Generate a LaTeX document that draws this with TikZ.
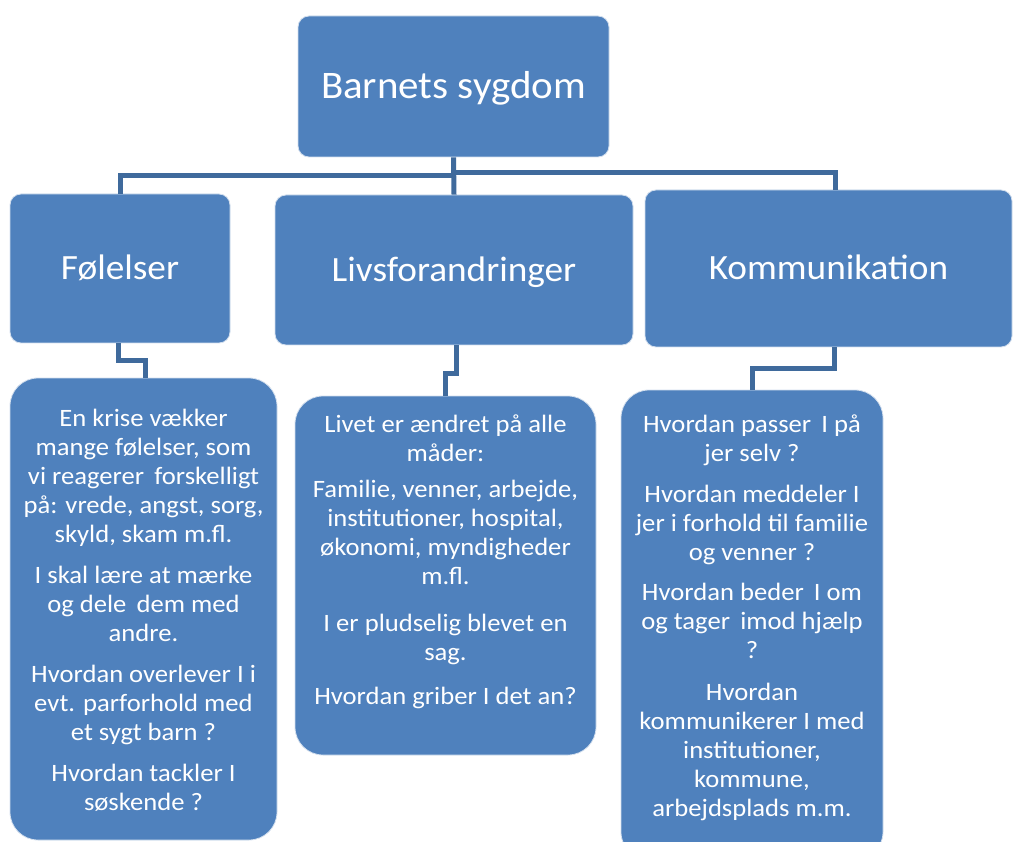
\documentclass[tikz,border=0pt]{standalone}
\usepackage{fontspec}
\setmainfont{Carlito}
\newfontfamily\widefont[FakeStretch=1.05]{Carlito}
\newfontfamily\bodyfont[FakeStretch=1.065]{Carlito}
\definecolor{boxblue}{RGB}{79,129,189}
\definecolor{connblue}{RGB}{63,106,156}
\begin{document}
\begin{tikzpicture}[x=1pt,y=-1pt,
  box/.style={fill=boxblue,draw=white!75!boxblue,line width=0.8pt,rounded corners=11pt,inner sep=0pt,
    text=white,text depth=0pt},
  bigbox/.style={fill=boxblue,draw=white!75!boxblue,line width=0.8pt,rounded corners=28pt,inner sep=0pt},
  bodytext/.style={text=white,align=center,anchor=north,inner sep=0pt,font=\bodyfont\fontsize{25}{29}\selectfont},
  conn/.style={draw=connblue,line width=5pt}]
\useasboundingbox (0,0) rectangle (1015,842);
\clip (0,0) rectangle (1015,842);
\fill[white] (0,0) rectangle (1015,842);

% top level
\node[box,text height=25pt,minimum width=311pt,minimum height=141pt,font=\widefont\fontsize{39}{47}\selectfont] (title) at (453.5,86.5) {Barnets sygdom};

% second level
\node[box,text height=23pt,minimum width=220pt,minimum height=149pt,font=\widefont\fontsize{35.5}{42}\selectfont] (fol) at (120,268.5) {Følelser};
\node[box,text height=23pt,minimum width=358pt,minimum height=150pt,font=\widefont\fontsize{35.5}{42}\selectfont] (livs) at (454,270) {Livsforandringer};
\node[box,text height=23pt,minimum width=367pt,minimum height=157pt,font=\widefont\fontsize{35.5}{42}\selectfont] (kom) at (828.5,268.5) {Kommunikation};

% third level boxes
\node[bigbox,minimum width=267pt,minimum height=462pt] (lbox) at (143.5,609) {};
\node[bigbox,minimum width=301pt,minimum height=359pt] (mbox) at (445.5,575.5) {};
\node[bigbox,minimum width=262pt,minimum height=470pt] (rbox) at (752,625) {};

% texts
\node[bodytext] (ltext) at (143.5,409) {En krise vækker\\ mange følelser, som\\ vi reagerer\, forskelligt\\ på: vrede, angst, sorg,\\ skyld, skam m.fl.\\[12pt]
I skal lære at mærke\\ og dele\, dem med\\ andre.\\[12pt]
Hvordan overlever I i\\ evt. parforhold med\\ et sygt barn ?\\[12pt]
Hvordan tackler I\\ søskende ?};

\node[bodytext] (mtext) at (445.5,415) {Livet er ændret på alle\\ måder:\\[7pt]
Familie, venner, arbejde,\\ institutioner, hospital,\\ økonomi, myndigheder\\ m.fl.\\[18pt]
I er pludselig blevet en\\ sag.\\[15pt]
Hvordan griber I det an?};

\node[bodytext] (rtext) at (752,415) {Hvordan passer\, I på\\ jer selv ?\\[12pt]
Hvordan meddeler I\\ jer i forhold til familie\\ og venner ?\\[11pt]
Hvordan beder\, I om\\ og tager\, imod hjælp\\ ?\\[13pt]
Hvordan\\ kommunikerer I med\\ institutioner,\\ kommune,\\ arbejdsplads m.m.};

% connectors
\coordinate (jl) at (453,176);
\coordinate (jr) at (453,173);
\draw[conn] (title.south) -- (livs.north);
\draw[conn] (fol.north) |- (jl);
\draw[conn] ([xshift=6.5pt]kom.north) |- (jr);

\draw[conn] ([xshift=-2pt]fol.south) -- ++(0,17) -| ([xshift=1.5pt]lbox.north);
\draw[conn] ([xshift=2pt]livs.south) -- ++(0,28) -| (mbox.north);
\draw[conn] ([xshift=5.5pt]kom.south) -- ++(0,21) -| (rbox.north);
\end{tikzpicture}
\end{document}
